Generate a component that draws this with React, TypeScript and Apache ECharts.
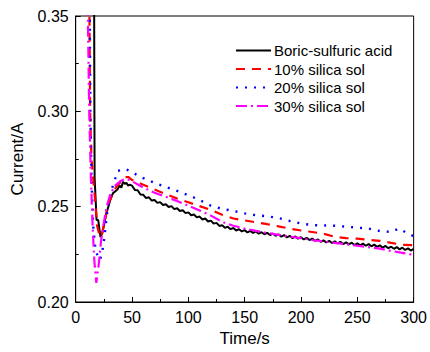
import React, { useEffect, useRef } from "react";
import * as echarts from "echarts";

const seriesNames = ["Boric-sulfuric acid", "10% silica sol", "20% silica sol", "30% silica sol"];
const xTicks = [0, 50, 100, 150, 200, 250, 300];
const yTicks = [0.2, 0.25, 0.3, 0.35];

const blackTime = [
  15.8, 16.4, 16.6, 16.8, 18.0, 18.5, 20.0, 22.0, 23.5, 25, 27, 29, 31, 33, 35, 37, 39, 40.5, 42, 43.5, 45, 46.5, 48,
  50, 52.5, 55, 57.5, 60, 62.5, 65, 67.5, 70, 72.5, 75, 77.5, 80, 82.5, 85, 87.5, 90, 92.5, 95, 97.5, 100,
  102.5, 105, 107.5, 110, 112.5, 115, 117.5, 120, 122.5, 125, 127.5, 130, 132.5, 135, 137.5, 140, 142.5, 145, 147.5, 150,
  152.5, 155, 157.5, 160, 162.5, 165, 167.5, 170, 172.5, 175, 177.5, 180, 182.5, 185, 187.5, 190, 192.5, 195, 197.5, 200,
  202.5, 205, 207.5, 210, 212.5, 215, 217.5, 220, 222.5, 225, 227.5, 230, 232.5, 235, 237.5, 240, 242.5, 245, 247.5, 250,
  252.5, 255, 257.5, 260, 262.5, 265, 267.5, 270, 272.5, 275, 277.5, 280, 282.5, 285, 287.5, 290, 292.5, 295, 297.5, 300,
];
const blackCurrent = [
  0.4, 0.35, 0.3, 0.265, 0.25, 0.243, 0.243, 0.234, 0.236, 0.24, 0.246, 0.25, 0.254, 0.257, 0.258, 0.259, 0.261, 0.26, 0.263, 0.262, 0.2625, 0.261, 0.2615,
  0.261, 0.2588, 0.2586, 0.2564, 0.2562, 0.2545, 0.2549, 0.2532, 0.2535, 0.252, 0.2524, 0.2509, 0.2513, 0.2498, 0.2503, 0.2487, 0.2492, 0.2477, 0.2481, 0.2466, 0.247,
  0.2455, 0.2459, 0.2444, 0.2448, 0.2433, 0.2438, 0.2422, 0.2427, 0.2411, 0.2415, 0.2399, 0.2403, 0.2389, 0.2395, 0.2382, 0.2388, 0.2375, 0.2382, 0.237, 0.2377,
  0.2365, 0.2373, 0.2362, 0.237, 0.2358, 0.2366, 0.2355, 0.2363, 0.2351, 0.2359, 0.2347, 0.2355, 0.2343, 0.2351, 0.2339, 0.2347, 0.2335, 0.2344, 0.2332, 0.234,
  0.2328, 0.2337, 0.2325, 0.2333, 0.2321, 0.2328, 0.2316, 0.2323, 0.2312, 0.2321, 0.2309, 0.2318, 0.2307, 0.2316, 0.2304, 0.2313, 0.2302, 0.2311, 0.2299, 0.2308,
  0.2297, 0.2306, 0.2295, 0.2304, 0.2292, 0.2301, 0.2289, 0.2297, 0.2285, 0.2294, 0.2282, 0.229, 0.2279, 0.2288, 0.2276, 0.2285, 0.2273, 0.2281, 0.227, 0.2278,
];

const redTime = [
  11.5, 12.2, 12.8, 14.0, 15.5, 17, 19, 21.5, 23.5, 25.5, 28, 30, 33, 36, 40, 44, 47, 50,
  60, 70, 80, 90, 100, 110, 120, 130, 140, 150, 160, 170, 180, 190, 200, 210, 220, 230, 240, 250, 260, 270, 280, 290, 300,
];
const redCurrent = [
  0.4, 0.35, 0.3, 0.275, 0.265, 0.255, 0.24, 0.234, 0.236, 0.242, 0.249, 0.253, 0.257, 0.2605, 0.263, 0.2655, 0.2655, 0.264,
  0.2615, 0.259, 0.2565, 0.2543, 0.2523, 0.2503, 0.2483, 0.2458, 0.2438, 0.2428, 0.2418, 0.2408, 0.2397, 0.2385, 0.2375, 0.2367, 0.2358, 0.2342, 0.2335, 0.2332, 0.2326, 0.2321, 0.231, 0.23, 0.2298,
];

const blueTime = [
  12, 12.5, 13, 14, 15.5, 17.5, 19.5, 21.5, 23.5, 25.5, 28.5, 31, 34, 37.5, 41, 44, 47, 50,
  60, 70, 80, 90, 100, 110, 120, 130, 140, 150, 160, 170, 180, 190, 200, 210, 220, 230, 240, 250, 260, 270, 280, 287, 294, 300,
];
const blueCurrent = [
  0.4, 0.35, 0.3, 0.265, 0.24, 0.228, 0.224, 0.222, 0.226, 0.234, 0.25, 0.257, 0.263, 0.2688, 0.2693, 0.2698, 0.269, 0.268,
  0.265, 0.2625, 0.2603, 0.2583, 0.256, 0.2535, 0.2505, 0.2488, 0.2478, 0.2465, 0.2455, 0.245, 0.244, 0.2425, 0.2412, 0.2403, 0.2402, 0.24, 0.2395, 0.239, 0.2385, 0.2372, 0.2367, 0.2385, 0.2362, 0.2345,
];

const magentaTime = [
  10, 10.8, 12, 13.5, 15, 16.5, 18.3, 20.5, 22.5, 24.5, 27.5, 31, 35, 40, 44, 48,
  60, 70, 80, 90, 100, 110, 120, 130, 140, 150, 160, 170, 180, 190, 200, 210, 220, 230, 240, 250, 260, 270, 280, 290, 300,
];
const magentaCurrent = [
  0.4, 0.35, 0.3, 0.265, 0.24, 0.222, 0.21, 0.22, 0.232, 0.24, 0.25, 0.257, 0.261, 0.2635, 0.2645, 0.264,
  0.26, 0.2573, 0.2552, 0.253, 0.2505, 0.248, 0.2453, 0.242, 0.24, 0.2385, 0.2373, 0.2362, 0.2352, 0.2343, 0.2335, 0.2325, 0.2318, 0.231, 0.2303, 0.2295, 0.2287, 0.228, 0.2268, 0.2258, 0.2247,
];

const pair = (t: number[], v: number[]) => t.map((x, i) => [x, v[i]]);

export default function App() {
  const ref = useRef<HTMLDivElement>(null);
  useEffect(() => {
    if (!ref.current) return;
    const chart = echarts.init(ref.current, null, { renderer: "svg" });
    const font = "'Liberation Sans', Arial, sans-serif";
    const mk = (name: string, data: number[][], color: string, type: any, width: number) => ({
      name,
      type: "line",
      data,
      symbol: "none",
      showSymbol: false,
      clip: true,
      lineStyle: { color, width, type },
      itemStyle: { color },
    });
    chart.setOption({
      animation: false,
      backgroundColor: "#fff",
      textStyle: { fontFamily: font },
      grid: {
        left: 75.7,
        right: 14.3,
        top: 16,
        bottom: 50,
        show: true,
        borderColor: "#000",
        borderWidth: 1,
        backgroundColor: "transparent",
      },
      legend: {
        orient: "vertical",
        left: 230,
        top: 38,
        itemWidth: 35,
        itemHeight: 14,
        itemGap: 3.5,
        itemStyle: { opacity: 0, borderWidth: 0 },
        textStyle: { fontSize: 15, color: "#000", fontFamily: font, padding: [0, 0, 0, -2] },
        data: seriesNames,
      },
      xAxis: {
        type: "value",
        min: xTicks[0],
        max: xTicks[xTicks.length - 1],
        interval: 50,
        name: "Time/s",
        nameLocation: "middle",
        nameGap: 28,
        nameTextStyle: { fontSize: 17, color: "#000", fontFamily: font },
        axisLine: { show: true, lineStyle: { color: "#000", width: 1 } },
        axisTick: { show: true, inside: true, length: 5, lineStyle: { color: "#000" } },
        minorTick: { show: true, splitNumber: 2, length: 3, lineStyle: { color: "#000" } },
        axisLabel: { fontSize: 16, color: "#000", margin: 7, fontFamily: font },
        splitLine: { show: false },
      },
      yAxis: {
        type: "value",
        min: yTicks[0],
        max: yTicks[yTicks.length - 1],
        interval: 0.05,
        name: "Current/A",
        nameLocation: "middle",
        nameGap: 50,
        nameTextStyle: { fontSize: 17, color: "#000", fontFamily: font },
        axisLine: { show: true, lineStyle: { color: "#000", width: 1 } },
        axisTick: { show: true, inside: true, length: 5, lineStyle: { color: "#000" } },
        minorTick: { show: true, splitNumber: 2, length: 3, lineStyle: { color: "#000" } },
        axisLabel: {
          fontSize: 16,
          color: "#000",
          margin: 7,
          fontFamily: font,
          formatter: (v: number) => v.toFixed(2),
        },
        splitLine: { show: false },
      },
      series: [
        mk(seriesNames[0], pair(blackTime, blackCurrent), "#000000", "solid", 2),
        mk(seriesNames[1], pair(redTime, redCurrent), "#ff0000", [9, 7], 2.2),
        mk(seriesNames[2], pair(blueTime, blueCurrent), "#0000ff", [2, 7], 2.4),
        mk(seriesNames[3], pair(magentaTime, magentaCurrent), "#ff00ff", [11, 4, 2, 4], 2.2),
      ],
    });
    return () => chart.dispose();
  }, []);
  return (
    <div
      ref={ref}
      style={{ position: "absolute", left: 0, top: 0, width: 430, height: 352, background: "#fff" }}
    />
  );
}
